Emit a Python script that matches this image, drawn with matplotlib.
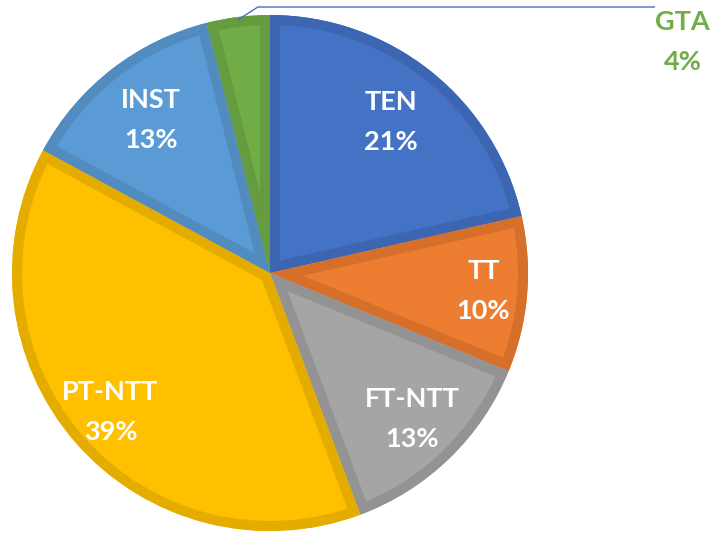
import numpy as np
import matplotlib.pyplot as plt
from matplotlib.patches import Wedge

labels = ['TEN', 'TT', 'FT-NTT', 'PT-NTT', 'INST', 'GTA']
shares = [21.45, 9.75, 13.1, 38.6, 13.15, 3.95]
pct_labels = ['21%', '10%', '13%', '39%', '13%', '4%']
fills = ['#4472C4', '#ED7D31', '#A5A5A5', '#FFC000', '#5B9BD5', '#70AD47']
edges = ['#3C66B1', '#D56F2A', '#939393', '#E5AC00', '#518BBF', '#649C3F']
label_dist = [0.75, 0.83, 0.79, 0.82, 0.75]

plt.rcParams['font.family'] = ['Lato', 'DejaVu Sans']

fig = plt.figure(figsize=(7.13, 5.35), dpi=100)
R = 258
ax = fig.add_axes([(270 - R) / 713, (535 - 273 - R) / 535, 2 * R / 713, 2 * R / 535])

wedges, _ = ax.pie(shares, colors=fills, startangle=90, counterclock=False,
                   radius=1, center=(0, 0), frame=False,
                   wedgeprops=dict(linewidth=0))
ax.set_xlim(-1, 1)
ax.set_ylim(-1, 1)
ax.set_aspect('equal')
ax.axis('off')

# darker border drawn inside each wedge (stroke clipped to the wedge)
for w, ec in zip(wedges, edges):
    border = Wedge(w.center, w.r, w.theta1, w.theta2, facecolor='none',
                   edgecolor=ec, linewidth=14.4, joinstyle='miter')
    ax.add_patch(border)
    clip = Wedge(w.center, w.r, w.theta1, w.theta2, transform=ax.transData)
    border.set_clip_path(clip)

for i, (w, lab, pct) in enumerate(zip(wedges, labels, pct_labels)):
    mid = (w.theta1 + w.theta2) / 2
    if i < len(label_dist):
        d = label_dist[i]
        x, y = d * np.cos(np.radians(mid)), d * np.sin(np.radians(mid))
        ax.text(x, y, f'{lab}\n{pct}', ha='center', va='center', color='white',
                fontsize=19.5, fontweight='bold', linespacing=1.8)
    else:
        x0, y0 = 0.99 * np.cos(np.radians(mid)), 0.99 * np.sin(np.radians(mid))
        ax.plot([x0, -0.047, 1.49], [y0, 1.031, 1.031], color='#4472C4',
                lw=1, clip_on=False)
        ax.text(1.60, 0.895, f'{lab}\n{pct}', ha='center', va='center',
                color='#70AD47', fontsize=19.5, fontweight='bold',
                linespacing=1.8, clip_on=False)

fig.savefig('out.png', dpi=100)
